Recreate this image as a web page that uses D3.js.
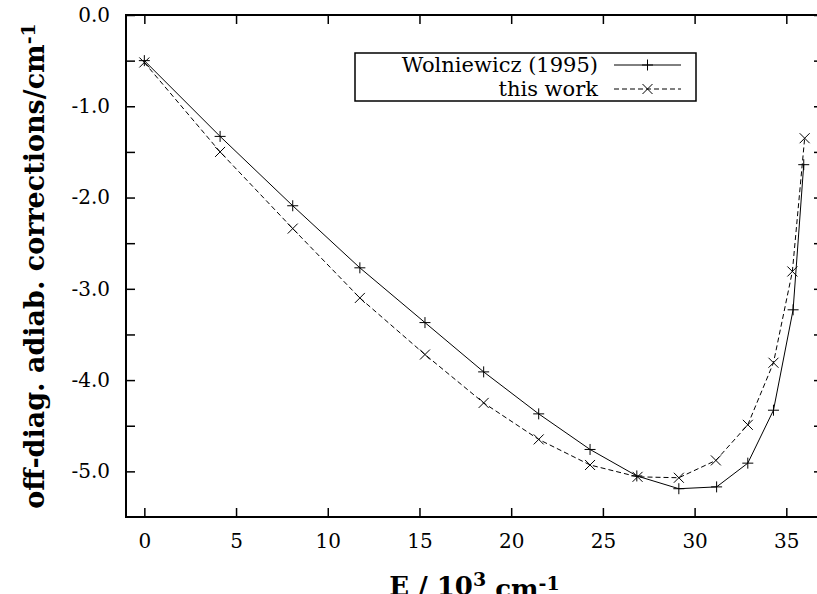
<!DOCTYPE html>
<html>
<head>
<meta charset="utf-8">
<script src="https://cdn.jsdelivr.net/npm/d3@7"></script>
<style>
body { margin: 0; background: #fff; }
svg { display: block; }
text { font-family: "DejaVu Serif", serif; fill: #000; }
</style>
</head>
<body>
<div id="chart"></div>
<script>
var width = 817,
height = 594;

// data (E in 10^3 cm^-1, corrections in cm^-1)
var wolnE = [0, 4.13, 8.09, 11.75, 15.3, 18.5, 21.5, 24.3, 26.85, 29.14, 31.2, 32.9, 34.3, 35.37, 35.95];
var wolnV = [-0.50, -1.33, -2.09, -2.77, -3.37, -3.91, -4.37, -4.76, -5.05, -5.19, -5.17, -4.91, -4.33, -3.23, -1.64];
var workE = [0, 4.13, 8.09, 11.75, 15.3, 18.5, 21.5, 24.3, 26.89, 29.14, 31.16, 32.9, 34.3, 35.33, 36.0];
var workV = [-0.52, -1.50, -2.34, -3.10, -3.72, -4.25, -4.65, -4.93, -5.06, -5.07, -4.88, -4.49, -3.81, -2.81, -1.35];

var xTicks = [0, 5, 10, 15, 20, 25, 30, 35];
var yTicks = [0, -1, -2, -3, -4, -5];
var yMinor = [-0.5, -1.5, -2.5, -3.5, -4.5];
var seriesNames = ["Wolniewicz (1995)", "this work"];

var svg = d3.select('#chart').append('svg')
.attr('width', width)
.attr('height', height);

var plotLeft = 126, plotRight = 823, plotTop = 15, plotBottom = 517;

let scaleX = d3.scaleLinear().domain([-1, 37]).range([plotLeft, plotRight]);
let scaleY = d3.scaleLinear().domain([-5.5, 0]).range([plotBottom, plotTop]);

var tickLen = 9;

// bottom axis with labels
var axB = svg.append('g').attr("transform", "translate(0," + plotBottom + ")")
    .call(d3.axisBottom(scaleX).tickValues(xTicks).tickSize(-tickLen).tickPadding(17)
        .tickFormat(d3.format("d")));
// top axis, ticks only
var axT = svg.append('g').attr("transform", "translate(0," + plotTop + ")")
    .call(d3.axisTop(scaleX).tickValues(xTicks).tickSize(-tickLen).tickFormat(""));
// left axis with labels (plain hyphen as minus, like gnuplot)
var axL = svg.append('g').attr("transform", "translate(" + plotLeft + ",0)")
    .call(d3.axisLeft(scaleY).tickValues(yTicks).tickSize(-tickLen).tickPadding(16)
        .tickFormat(function(d) { return d.toFixed(1); }));
var axLm = svg.append('g').attr("transform", "translate(" + plotLeft + ",0)")
    .call(d3.axisLeft(scaleY).tickValues(yMinor).tickSize(-tickLen).tickFormat(""));
// right axis, ticks only
var axR = svg.append('g').attr("transform", "translate(" + plotRight + ",0)")
    .call(d3.axisRight(scaleY).tickValues(yTicks.concat(yMinor)).tickSize(-tickLen).tickFormat(""));

[axB, axT, axL, axLm, axR].forEach(function(a) {
    a.select(".domain").remove();
    a.selectAll(".tick line").attr("stroke", "#000").attr("stroke-width", 1.5);
    a.selectAll("text").attr("font-family", "DejaVu Serif").attr("font-size", 20).attr("fill", "#000");
});

// frame
svg.append("rect")
    .attr("x", plotLeft).attr("y", plotTop)
    .attr("width", plotRight - plotLeft).attr("height", plotBottom - plotTop)
    .attr("fill", "none").attr("stroke", "#000").attr("stroke-width", 2);

var lineFunc = d3.line()
    .x(function(d) { return scaleX(d.x); })
    .y(function(d) { return scaleY(d.y); });

function toPts(xs, ys) {
    return xs.map(function(x, i) { return {x: x, y: ys[i]}; });
}

var wolnData = toPts(wolnE, wolnV);
var workData = toPts(workE, workV);

function plusPath(cx, cy, s) {
    return "M" + (cx - s) + "," + cy + "H" + (cx + s) + "M" + cx + "," + (cy - s) + "V" + (cy + s);
}
function crossPath(cx, cy, s) {
    return "M" + (cx - s) + "," + (cy - s) + "L" + (cx + s) + "," + (cy + s) +
        "M" + (cx - s) + "," + (cy + s) + "L" + (cx + s) + "," + (cy - s);
}

var g = svg.append('g');

g.append("path").datum(wolnData)
    .attr("d", lineFunc)
    .attr("fill", "none").attr("stroke", "#000").attr("stroke-width", 1);
g.append("path").datum(workData)
    .attr("d", lineFunc)
    .attr("fill", "none").attr("stroke", "#000").attr("stroke-width", 1)
    .attr("stroke-dasharray", "5,3");

g.selectAll(".plus").data(wolnData).enter().append("path")
    .attr("class", "plus")
    .attr("d", d => plusPath(scaleX(d.x), scaleY(d.y), 5.5))
    .attr("stroke", "#000").attr("stroke-width", 1).attr("fill", "none");
g.selectAll(".cross").data(workData).enter().append("path")
    .attr("class", "cross")
    .attr("d", d => crossPath(scaleX(d.x), scaleY(d.y), 5))
    .attr("stroke", "#000").attr("stroke-width", 1).attr("fill", "none");

// legend
var lg = svg.append('g');
lg.append("rect")
    .attr("x", 355).attr("y", 53).attr("width", 341).attr("height", 48)
    .attr("fill", "#fff").attr("stroke", "#000").attr("stroke-width", 1.5);
var rowsY = [65, 89];
seriesNames.forEach(function(name, i) {
    lg.append("text")
        .attr("x", 598).attr("y", rowsY[i]).attr("dy", "0.35em")
        .attr("text-anchor", "end").attr("font-size", 21)
        .text(name);
    var ln = lg.append("line")
        .attr("x1", 614).attr("x2", 681).attr("y1", rowsY[i]).attr("y2", rowsY[i])
        .attr("stroke", "#000").attr("stroke-width", 1);
    if (i == 1) ln.attr("stroke-dasharray", "5,3");
    lg.append("path")
        .attr("d", i == 0 ? plusPath(647.5, rowsY[i], 5.5) : crossPath(647.5, rowsY[i], 5))
        .attr("stroke", "#000").attr("stroke-width", 1).attr("fill", "none");
});

// axis titles
var xt = svg.append("text")
    .attr("x", (plotLeft + plotRight) / 2).attr("y", 595)
    .attr("text-anchor", "middle")
    .attr("font-size", 26).attr("font-weight", "bold");
xt.append("tspan").text("E / 10");
xt.append("tspan").attr("dy", "-0.45em").attr("font-size", 19).text("3");
xt.append("tspan").attr("dy", "0.45em").text(" cm");
xt.append("tspan").attr("dy", "-0.45em").attr("font-size", 19).text("-1");

var yt = svg.append("text")
    .attr("transform", "translate(44," + ((plotTop + plotBottom) / 2) + ") rotate(-90)")
    .attr("text-anchor", "middle")
    .attr("font-size", 27).attr("font-weight", "bold");
yt.append("tspan").text("off-diag. adiab. corrections/cm");
yt.append("tspan").attr("dy", "-0.45em").attr("font-size", 19).text("-1");
</script>
</body>
</html>
